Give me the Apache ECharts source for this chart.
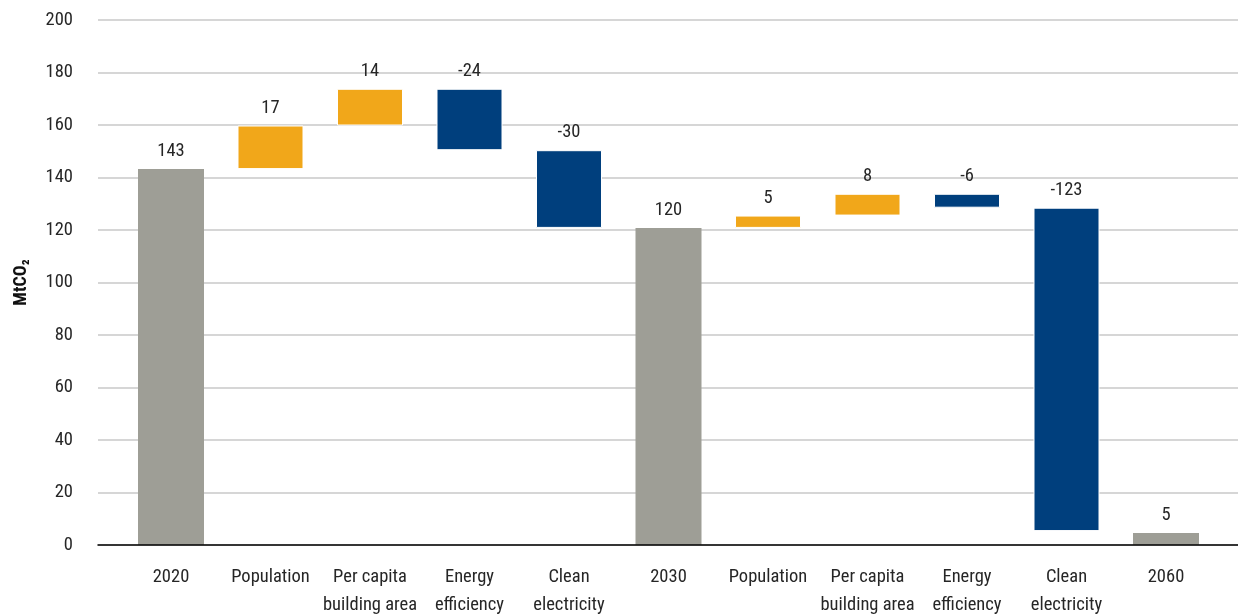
<!DOCTYPE html>
<html>
<head>
<meta charset="utf-8">
<script src="https://cdn.jsdelivr.net/npm/echarts@6/dist/echarts.min.js"></script>
<style>
html,body{margin:0;padding:0;background:#fff;}
#chart{width:1238px;height:615px;}
</style>
</head>
<body>
<div id="chart"></div>
<script>
// ---- data ----
var categories = ['2020', 'Population', 'Per capita\nbuilding area', 'Energy\nefficiency', 'Clean\nelectricity',
                  '2030', 'Population', 'Per capita\nbuilding area', 'Energy\nefficiency', 'Clean\nelectricity', '2060'];
// totals are absolute values, other steps are changes (MtCO2), as measured from the bars
var stepValues = [143.2, 16.6, 14.0, -23.4, -29.6, 120.8, 4.7, 8.3, -5.3, -123.2, 4.6];
var isTotal    = [true, false, false, false, false, true, false, false, false, false, true];
// printed labels
var stepLabels = ['143', '17', '14', '-24', '-30', '120', '5', '8', '-6', '-123', '5'];
var yTicks = {min: 0, max: 200, interval: 20};

// ---- build waterfall stacks ----
var baseData = [], totalData = [], upData = [], downData = [];
var running = 0;
for (var i = 0; i < stepValues.length; i++) {
  var v = stepValues[i];
  if (isTotal[i]) {
    baseData.push(0); totalData.push(v); upData.push('-'); downData.push('-');
    running = v;
  } else if (v >= 0) {
    baseData.push(running); upData.push(v); totalData.push('-'); downData.push('-');
    running += v;
  } else {
    baseData.push(running + v); downData.push(-v); totalData.push('-'); upData.push('-');
    running += v;
  }
}

var FONT = '"Roboto Condensed", "Liberation Sans Narrow", "Roboto", sans-serif';
var TXT = '#262626';
var GREY = '#9e9e96', ORANGE = '#f1a71a', BLUE = '#003f7d';
var FS = 18.5;

var labelCfg = {
  show: true, position: 'top', distance: 8,
  fontFamily: FONT, fontSize: FS, color: TXT,
  formatter: function (p) { return stepLabels[p.dataIndex]; }
};

var chart = echarts.init(document.getElementById('chart'), null, {renderer: 'canvas'});
chart.setOption({
  animation: false,
  backgroundColor: '#fff',
  grid: [
    {left: 98, right: 0, top: 20, bottom: 70, outerBoundsMode: 'none', containLabel: false},
    {left: 121.25, right: 22.25, top: 20, bottom: 70, outerBoundsMode: 'none', containLabel: false}
  ],
  xAxis: [
    {gridIndex: 0, type: 'value', min: 0, max: 1, z: 10,
     axisLine: {show: true, lineStyle: {color: '#000', width: 1.5}},
     axisTick: {show: false}, axisLabel: {show: false}, splitLine: {show: false}},
    {gridIndex: 1, type: 'category', data: categories,
     axisLine: {show: false}, axisTick: {show: false},
     axisLabel: {interval: 0, margin: 18, lineHeight: 28, fontFamily: FONT, fontSize: FS, color: TXT}}
  ],
  yAxis: [
    {gridIndex: 0, type: 'value', min: yTicks.min, max: yTicks.max, interval: yTicks.interval,
     name: 'MtCO\u2082', nameLocation: 'middle', nameGap: 68,
     nameTextStyle: {fontFamily: FONT, fontSize: 18, fontWeight: 'bold', color: '#111'},
     axisLine: {show: false}, axisTick: {show: false},
     axisLabel: {margin: 25, fontFamily: FONT, fontSize: FS, color: TXT},
     splitLine: {show: true, lineStyle: {color: '#c8c8c8', width: 1.5}}},
    {gridIndex: 1, type: 'value', min: yTicks.min, max: yTicks.max, interval: yTicks.interval,
     show: false, splitLine: {show: false}}
  ],
  series: [
    {type: 'bar', name: 'base', xAxisIndex: 1, yAxisIndex: 1, stack: 'w', barWidth: 66,
     itemStyle: {color: 'transparent'}, emphasis: {disabled: true}, data: baseData},
    {type: 'bar', name: 'total', xAxisIndex: 1, yAxisIndex: 1, stack: 'w', barWidth: 66,
     itemStyle: {color: GREY}, label: labelCfg, data: totalData},
    {type: 'bar', name: 'increase', xAxisIndex: 1, yAxisIndex: 1, stack: 'w', barWidth: 67,
     itemStyle: {color: ORANGE, borderColor: '#fff', borderWidth: 1}, label: labelCfg, data: upData},
    {type: 'bar', name: 'decrease', xAxisIndex: 1, yAxisIndex: 1, stack: 'w', barWidth: 67,
     itemStyle: {color: BLUE, borderColor: '#fff', borderWidth: 1}, label: labelCfg, data: downData}
  ]
});
</script>
</body>
</html>
